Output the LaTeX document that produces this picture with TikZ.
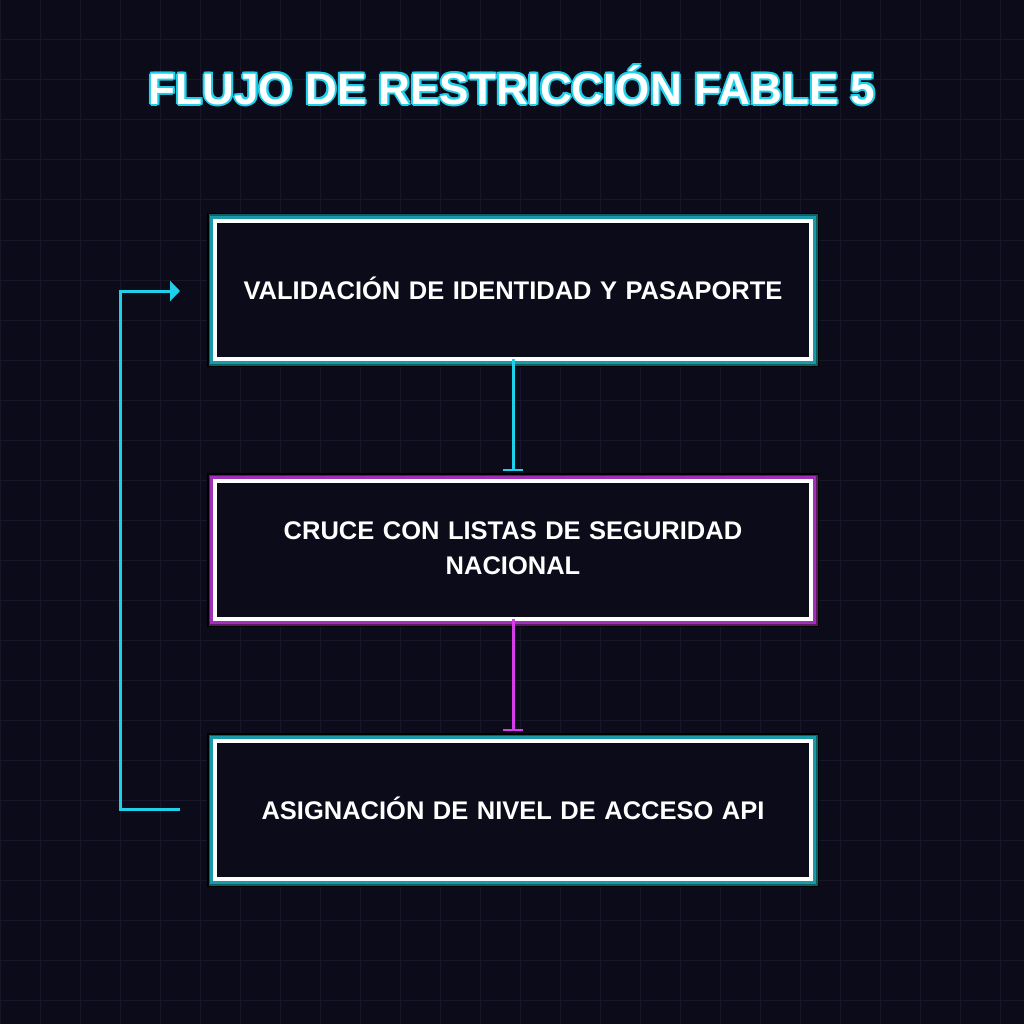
\documentclass[tikz,border=0pt]{standalone}
\usepackage{fontspec}
\setmainfont{Liberation Sans}
\usetikzlibrary{arrows.meta}
\definecolor{bg}{HTML}{0B0B1A}
\definecolor{gridc}{HTML}{171729}
\definecolor{cy}{HTML}{1FD0EA}
\definecolor{tealA}{HTML}{0F5F66}
\definecolor{tealB}{HTML}{1A9AA8}
\definecolor{magA}{HTML}{5A1A66}
\definecolor{magB}{HTML}{A030B8}
\definecolor{mg}{HTML}{D63CE8}
\tikzset{
  boxtxt/.style={text=white,font=\bfseries\fontsize{25.5}{35}\selectfont,align=center,text width=590pt},
  ttl/.style={font=\bfseries\fontsize{44}{50}\selectfont},
  conn/.style={line width=3pt},
}
\newcommand{\glowbox}[4]{% name, ytop, colA, colB
  \fill[black] (207,#2) rectangle (819,#2+154);
  \fill[#3] (208.5,#2+1.5) rectangle (817.5,#2+152.5);
  \fill[#4] (210,#2+3) rectangle (816,#2+151);
  \draw[white,line width=4pt,fill=bg] (215,#2+8) rectangle (811,#2+146);
  \coordinate (#1t) at (513,#2+8);
  \coordinate (#1b) at (513,#2+146);
}
\begin{document}
\begin{tikzpicture}[x=1pt,y=-1pt]
\fill[bg] (0,0) rectangle (1024,1024);
\useasboundingbox (0,0) rectangle (1024,1024);
\foreach \i in {0,40,...,1000}{
  \draw[gridc,line width=1pt] (\i,0) -- (\i,1024);
  \draw[gridc,line width=1pt] (0,\i) -- (1024,\i);
}
% title
\foreach \dx/\dy in {-2/0,2/0,0/-2,0/2,-1.5/-1.5,1.5/1.5,-1.5/1.5,1.5/-1.5}{
  \node[text=cy,ttl] at (512+\dx,85+\dy) {FLUJO DE RESTRICCIÓN FABLE 5};
}
\node[text=white,ttl] (title) at (512,85) {FLUJO DE RESTRICCIÓN FABLE 5};
\glowbox{a}{213}{tealA}{tealB}
\glowbox{b}{473}{magA}{magB}
\glowbox{c}{733}{tealA}{tealB}
\node[boxtxt] (na) at (513,288) {VALIDACIÓN DE IDENTIDAD Y PASAPORTE};
\node[boxtxt] (nb) at (513,548) {CRUCE CON LISTAS DE SEGURIDAD\\NACIONAL};
\node[boxtxt] (nc) at (513,808) {ASIGNACIÓN DE NIVEL DE ACCESO API};
\coordinate (bt) at (513,471);
\coordinate (ct) at (513,731);
\draw[conn,cy,-{Bar[width=20pt,line width=2pt]}] (ab) -- (bt);
\draw[conn,mg,-{Bar[width=20pt,line width=2pt]}] (bb) -- (ct);
\coordinate (l1) at (180,809);
\coordinate (l2) at (180,291);
\draw[conn,cy,-{Triangle[length=10pt,width=20pt]}] (l1) -- (120,809) -- (120,291) -- (l2);
\end{tikzpicture}
\end{document}
